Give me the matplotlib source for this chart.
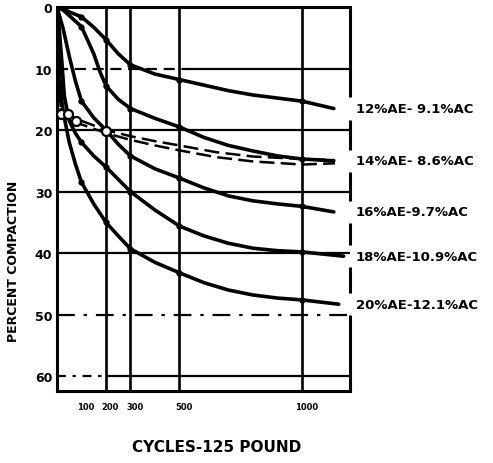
import matplotlib
matplotlib.use("Agg")
import matplotlib.pyplot as plt
import matplotlib.transforms as mtransforms

# cycles / percent compaction, one pair per curve
c12 = [0, 25, 50, 100, 150, 200, 250, 300, 400, 500, 600, 700, 800, 900, 1000, 1130]
p12 = [0, 0.3, 0.8, 1.6, 3.3, 5.3, 7.6, 9.4, 10.9, 11.8, 12.7, 13.6, 14.3, 14.8, 15.3, 16.5]

c14 = [0, 25, 50, 100, 150, 175, 200, 250, 300, 400, 500, 600, 700, 800, 900, 1000, 1130]
p14 = [0, 0.5, 1.4, 3.2, 7.6, 10.5, 12.8, 15.0, 16.5, 18.1, 19.5, 21.2, 22.5, 23.4, 24.2, 24.7, 25.0]

c16 = [0, 25, 50, 75, 100, 150, 200, 250, 300, 400, 500, 600, 700, 800, 900, 1000, 1130]
p16 = [0, 3.5, 8.0, 12.0, 15.3, 18.0, 20.0, 22.3, 24.2, 26.3, 27.8, 29.4, 30.7, 31.5, 32.0, 32.4, 33.3]

c18 = [0, 10, 20, 30, 50, 75, 100, 150, 200, 250, 300, 400, 500, 600, 700, 800, 900, 1000, 1170]
p18 = [0, 4.0, 9.0, 14.5, 18.5, 20.5, 22.0, 24.2, 26.0, 28.0, 30.0, 33.0, 35.6, 37.2, 38.4, 39.2, 39.6, 39.8, 40.5]

c20 = [0, 5, 10, 20, 30, 50, 75, 100, 150, 200, 250, 300, 400, 500, 600, 700, 800, 900, 1000, 1150]
p20 = [0, 6.0, 11.0, 15.5, 18.0, 22.0, 25.5, 28.5, 32.0, 35.0, 37.2, 39.3, 41.5, 43.2, 44.8, 46.0, 46.8, 47.3, 47.6, 48.3]

# the two dashed curves that run close together
cdash = [0, 5, 10, 16, 45, 80, 200, 300, 400, 500, 650, 800, 1000, 1135]
pdash_a = [0, 6.0, 12.0, 17.2, 17.4, 18.2, 20.0, 21.0, 21.8, 22.5, 23.6, 24.3, 24.7, 24.9]
pdash_b = [0, 6.5, 13.0, 17.6, 17.8, 18.8, 20.5, 21.6, 22.5, 23.3, 24.4, 25.1, 25.6, 25.4]

# open circles at the start of the dashed curves
circle_c = [16, 45, 78, 200]
circle_p = [17.4, 17.4, 18.5, 20.2]

labels = ["12%AE- 9.1%AC", "14%AE- 8.6%AC", "16%AE-9.7%AC",
          "18%AE-10.9%AC", "20%AE-12.1%AC"]

x_ticks = [100, 200, 300, 500, 1000]
y_ticks = [0, 10, 20, 30, 40, 50, 60]
x_grid = [200, 300, 500, 1000]
dot_cycles = [100, 200, 300, 500, 1000]

fig = plt.figure(figsize=(4.93, 4.64), dpi=100)
ax = fig.add_axes([0.1156, 0.1552, 0.5943, 0.8276])

xmax, ymax = 1196, 62.4
ax.set_xlim(0, xmax)
ax.set_ylim(ymax, 0)

# grid, hand drawn style: some solid, some broken
for x in x_grid:
    ax.axvline(x, color="black", lw=1.9, zorder=1)
ax.axhline(10, xmin=0, xmax=0.45, color="black", lw=1.6, ls=(0, (5, 3)), zorder=1)
ax.axhline(10, xmin=0.45, xmax=1, color="black", lw=1.6, zorder=1)
for y in [20, 30, 40]:
    ax.axhline(y, color="black", lw=1.6, zorder=1)
ax.axhline(50, color="black", lw=1.6, ls=(0, (8, 4, 1.5, 4)), zorder=1)
ax.axhline(60, xmin=0, xmax=0.17, color="black", lw=1.6, ls=(0, (4, 3, 1.5, 3)), zorder=1)
ax.axhline(60, xmin=0.17, xmax=1, color="black", lw=1.6, zorder=1)

curves = [(c12, p12), (c14, p14), (c16, p16), (c18, p18), (c20, p20)]
for (cx, py), lab in zip(curves, labels):
    marks = [i for i, c in enumerate(cx) if c in dot_cycles]
    ax.plot(cx, py, color="black", lw=2.6, solid_capstyle="round",
            solid_joinstyle="round", marker="o", ms=3.5, markevery=marks,
            zorder=3)
    ax.annotate(lab, xy=(1.02, py[-1]), xycoords=("axes fraction", "data"),
                ha="left", va="center", fontsize=9.5, fontweight="bold",
                annotation_clip=False)

ax.plot(cdash, pdash_a, color="black", lw=1.8, ls=(0, (6, 2.5)), zorder=3)
ax.plot(cdash, pdash_b, color="black", lw=1.8, ls=(2, (6, 2.5)), zorder=3)
ax.plot(circle_c, circle_p, ls="none", marker="o", ms=6.5, mfc="white",
        mec="black", mew=1.6, zorder=4)

# frame: left, top, bottom solid; right side broken where the labels sit
for side in ["left", "top", "bottom"]:
    ax.spines[side].set_linewidth(2.2)
ax.spines["right"].set_visible(False)
gaps = [p[-1] for _, p in curves]
edges = [0]
for g in gaps:
    edges += [g - 1.8, g + 1.8]
edges.append(ymax)
for lo, hi in zip(edges[::2], edges[1::2]):
    ax.vlines(xmax, lo, hi, color="black", lw=2.2, clip_on=False, zorder=5)

ax.set_xticks(x_ticks)
ax.set_xticklabels([str(t) for t in x_ticks])
ax.set_yticks(y_ticks)
ax.set_yticklabels([str(t) for t in y_ticks])
ax.tick_params(axis="x", length=0, pad=8, labelsize=6)
ax.tick_params(axis="y", length=0, pad=3.5, labelsize=9)
for t in ax.get_xticklabels() + ax.get_yticklabels():
    t.set_fontweight("bold")
shift = mtransforms.ScaledTranslation(3 / 72, 0, fig.dpi_scale_trans)
for t in ax.get_xticklabels():
    t.set_transform(t.get_transform() + shift)

ax.set_xlabel("CYCLES-125 POUND", fontsize=11, fontweight="bold")
ax.set_ylabel("PERCENT COMPACTION", fontsize=9, fontweight="bold")
ax.xaxis.set_label_coords(0.546, -0.125)
ax.yaxis.set_label_coords(-0.126, 0.34)

fig.savefig("out.png", dpi=100, facecolor="white")
